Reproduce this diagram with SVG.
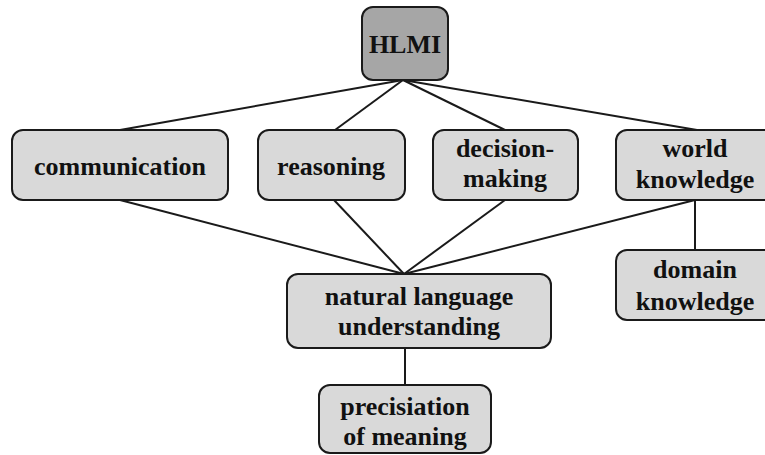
<svg xmlns="http://www.w3.org/2000/svg" width="765" height="455" viewBox="0 0 765 455">
<style>
.box{fill:#d9d9d9;stroke:#1a1a1a;stroke-width:2}
.top{fill:#a6a6a6;stroke:#1a1a1a;stroke-width:2}
.t{font-weight:bold;font-size:26px;fill:#111;text-anchor:middle}
.c{stroke:#1a1a1a;stroke-width:2;fill:none}
</style>
<rect width="765" height="455" fill="#fff"/>
<g id="connectors">
<line class="c" x1="403" y1="80" x2="120" y2="130"/>
<line class="c" x1="403" y1="80" x2="335" y2="130"/>
<line class="c" x1="403" y1="80" x2="505" y2="130"/>
<line class="c" x1="403" y1="80" x2="697" y2="130"/>
<line class="c" x1="120" y1="200" x2="404" y2="274"/>
<line class="c" x1="334" y1="200" x2="404" y2="274"/>
<line class="c" x1="505" y1="200" x2="404" y2="274"/>
<line class="c" x1="695" y1="200" x2="404" y2="274"/>
<line class="c" x1="695" y1="200" x2="695" y2="250"/>
<line class="c" x1="405" y1="348" x2="405" y2="385"/>
</g>
<g font-family="Liberation Serif, Times New Roman, serif">
<g id="hlmi"><rect class="top" x="362" y="7" width="86" height="73" rx="11"/><text class="t" x="405" y="53">HLMI</text></g>
<g id="communication"><rect class="box" x="12" y="130" width="216" height="70" rx="11"/><text class="t" x="120" y="175">communication</text></g>
<g id="reasoning"><rect class="box" x="258" y="130" width="147" height="70" rx="11"/><text class="t" x="331" y="175">reasoning</text></g>
<g id="decision"><rect class="box" x="433" y="130" width="145" height="70" rx="11"/><text class="t" x="505" y="157">decision-</text><text class="t" x="505" y="187">making</text></g>
<g id="world"><rect class="box" x="616" y="130" width="160" height="70" rx="11"/><text class="t" x="695" y="157">world</text><text class="t" x="695" y="188">knowledge</text></g>
<g id="domain"><rect class="box" x="616" y="250" width="160" height="70" rx="11"/><text class="t" x="695" y="278">domain</text><text class="t" x="695" y="310">knowledge</text></g>
<g id="nlu"><rect class="box" x="287" y="274" width="264" height="74" rx="11"/><text class="t" x="419" y="305">natural language</text><text class="t" x="419" y="335">understanding</text></g>
<g id="precisiation"><rect class="box" x="319" y="385" width="172" height="68" rx="11"/><text class="t" x="405" y="415">precisiation</text><text class="t" x="405" y="445">of meaning</text></g>
</g>
</svg>
